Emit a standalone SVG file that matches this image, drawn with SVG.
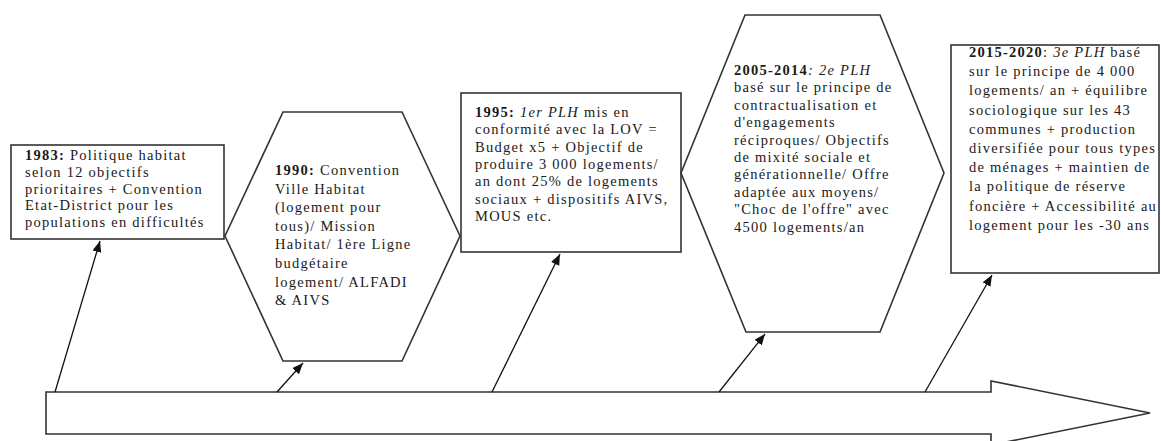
<svg xmlns="http://www.w3.org/2000/svg" width="1161" height="441" viewBox="0 0 1161 441">
<style>
.shape{fill:#fff;stroke:#333;stroke-width:1.6}
.conn{stroke:#111;stroke-width:1.3;fill:none;marker-end:url(#ah)}
text{font-family:"Liberation Serif","Times New Roman",serif;font-size:14.5px;letter-spacing:1.25px;fill:#1a1a1a}
.b{font-weight:bold}
.i{font-style:italic}
</style>
<defs>
<marker id="ah" markerUnits="userSpaceOnUse" markerWidth="12" markerHeight="10" refX="11" refY="4.5" orient="auto">
<path d="M0,0 L11,4.5 L0,9 Z" fill="#111"/>
</marker>
</defs>
<rect width="1161" height="441" fill="#fff"/>
<g id="timeline">
<polygon class="shape" points="46,392 991,392 991,381 1150,413 991,445 991,434 46,434"/>
</g>
<g id="connectors">
<line class="conn" x1="55" y1="392" x2="100" y2="241"/>
<line class="conn" x1="277" y1="392" x2="303" y2="363"/>
<line class="conn" x1="492" y1="392" x2="560" y2="254"/>
<line class="conn" x1="719" y1="392" x2="765" y2="334"/>
<line class="conn" x1="925" y1="392" x2="992" y2="275"/>
</g>
<g id="n1983">
<rect class="shape" x="11" y="145" width="213" height="94"/>
<text x="25" y="160"><tspan class="b">1983:</tspan> Politique habitat</text>
<text x="25" y="176.8">selon 12 objectifs</text>
<text x="25" y="193.6">prioritaires + Convention</text>
<text x="25" y="210.4">Etat-District pour les</text>
<text x="25" y="227.2">populations en difficultés</text>
</g>
<g id="n1990">
<polygon class="shape" points="283,112 402,112 460,236 402,361 283,361 225,236"/>
<text x="275" y="175"><tspan class="b">1990:</tspan> Convention</text>
<text x="275" y="193.6">Ville Habitat</text>
<text x="275" y="212.2">(logement pour</text>
<text x="275" y="230.8">tous)/ Mission</text>
<text x="275" y="249.4">Habitat/ 1ère Ligne</text>
<text x="275" y="268">budgétaire</text>
<text x="275" y="286.6">logement/ ALFADI</text>
<text x="275" y="305.2">&amp; AIVS</text>
</g>
<g id="n1995">
<rect class="shape" x="461" y="93" width="220" height="159"/>
<text x="475" y="117"><tspan class="b">1995:</tspan> <tspan class="i">1er PLH</tspan> mis en</text>
<text x="475" y="134.3">conformité avec la LOV =</text>
<text x="475" y="151.6">Budget x5 + Objectif de</text>
<text x="475" y="168.9">produire 3 000 logements/</text>
<text x="475" y="186.2">an dont 25% de logements</text>
<text x="475" y="203.5">sociaux + dispositifs AIVS,</text>
<text x="475" y="220.8">MOUS etc.</text>
</g>
<g id="n2005">
<polygon class="shape" points="745,15 880,15 944,173 880,332 746,332 681,173"/>
<text x="734" y="75"><tspan class="b">2005-2014</tspan><tspan class="i">: 2e PLH</tspan></text>
<text x="734" y="92.4">basé sur le principe de</text>
<text x="734" y="109.8">contractualisation et</text>
<text x="734" y="127.2">d'engagements</text>
<text x="734" y="144.6">réciproques/ Objectifs</text>
<text x="734" y="162">de mixité sociale et</text>
<text x="734" y="179.4">générationnelle/ Offre</text>
<text x="734" y="196.8">adaptée aux moyens/</text>
<text x="734" y="214.2">"Choc de l'offre" avec</text>
<text x="734" y="231.6">4500 logements/an</text>
</g>
<g id="n2015">
<rect class="shape" x="951" y="45" width="208" height="228"/>
<text x="969" y="57"><tspan class="b">2015-2020</tspan>: <tspan class="i">3e PLH</tspan> basé</text>
<text x="969" y="76.2">sur le principe de 4 000</text>
<text x="969" y="95.4">logements/ an + équilibre</text>
<text x="969" y="114.6">sociologique sur les 43</text>
<text x="969" y="133.8">communes + production</text>
<text x="969" y="153">diversifiée pour tous types</text>
<text x="969" y="172.2">de ménages + maintien de</text>
<text x="969" y="191.4">la politique de réserve</text>
<text x="969" y="210.6">foncière + Accessibilité au</text>
<text x="969" y="229.8">logement pour les -30 ans</text>
</g>
</svg>
